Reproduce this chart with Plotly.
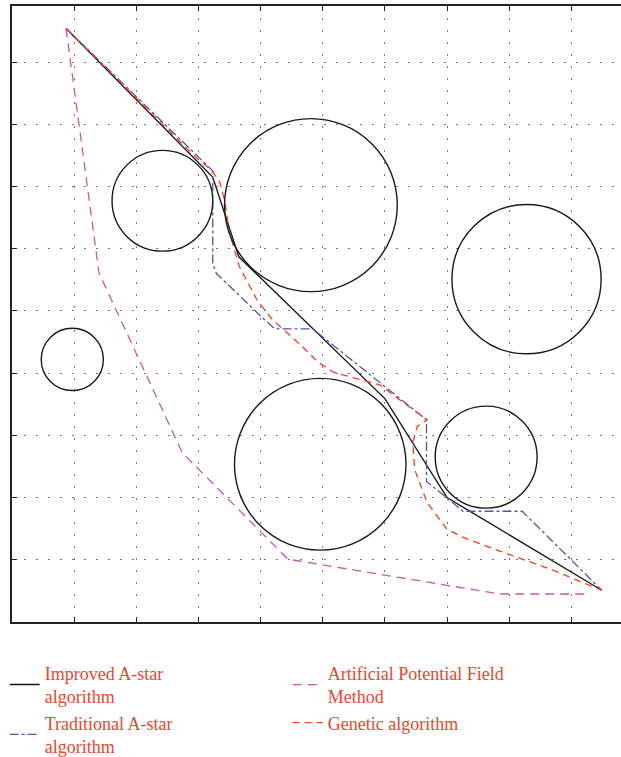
import plotly.graph_objects as go

# Path data (data units)
improved_x = [0.87, 3.23, 3.65, 6.00, 7.00, 9.49]
improved_y = [9.54, 7.15, 5.87, 3.59, 2.00, 0.51]

traditional_x = [0.87, 3.23, 3.23, 3.29, 4.03, 4.23, 4.84, 6.67, 6.67, 7.26, 8.21, 8.98, 9.49]
traditional_y = [9.54, 7.25, 5.76, 5.60, 4.89, 4.71, 4.71, 3.25, 2.26, 1.78, 1.78, 1.01, 0.51]

apf_x = [0.87, 1.40, 2.74, 4.44, 7.85, 9.27]
apf_y = [9.54, 5.61, 2.72, 1.01, 0.45, 0.45]

genetic_x = [0.87, 2.98, 3.21, 3.34, 3.42, 3.50, 3.66, 3.94, 4.19, 4.68, 4.92, 5.16, 5.44,
             5.92, 6.24, 6.68, 6.52, 6.45, 6.48, 6.68, 7.00, 7.26, 7.85, 8.66, 9.49]
genetic_y = [9.54, 7.45, 7.26, 7.08, 6.78, 6.25, 5.71, 5.18, 4.86, 4.42, 4.18, 4.02, 3.94,
             3.81, 3.57, 3.25, 3.14, 2.88, 2.45, 1.92, 1.49, 1.36, 1.14, 0.85, 0.51]

# Obstacles: centre x, centre y, radius
obs_cx = [0.97, 2.42, 4.81, 8.28, 4.96, 7.63]
obs_cy = [4.22, 6.77, 6.70, 5.51, 2.535, 2.65]
obs_r = [0.50, 0.81, 1.39, 1.20, 1.38, 0.82]

grid_vals = [1, 2, 3, 4, 5, 6, 7, 8, 9]

fig = go.Figure()
fig.add_trace(go.Scatter(x=improved_x, y=improved_y, mode="lines",
                         name="Improved A-star<br>algorithm",
                         line=dict(color="#1a1a1a", width=1.4)))
fig.add_trace(go.Scatter(x=apf_x, y=apf_y, mode="lines",
                         name="Artificial Potential Field<br>Method",
                         line=dict(color="#cc55aa", width=1.3, dash="9px,6px")))
fig.add_trace(go.Scatter(x=traditional_x, y=traditional_y, mode="lines",
                         name="Traditional A-star<br>algorithm",
                         line=dict(color="#5555aa", width=1.3, dash="dashdot")))
fig.add_trace(go.Scatter(x=genetic_x, y=genetic_y, mode="lines",
                         name="Genetic algorithm",
                         line=dict(color="#ff3d1f", width=1.3, dash="7px,5px")))

for cx, cy, r in zip(obs_cx, obs_cy, obs_r):
    fig.add_shape(type="circle", xref="x", yref="y",
                  x0=cx - r, x1=cx + r, y0=cy - r, y1=cy + r,
                  line=dict(color="#1a1a1a", width=1.4), layer="above")

axis_common = dict(showticklabels=False, ticks="inside", ticklen=5, tickcolor="#222",
                   tickvals=grid_vals, showgrid=True, gridcolor="#777", gridwidth=1,
                   griddash="2px,10px", zeroline=False, showline=True,
                   linecolor="#222", linewidth=1.5)

fig.update_xaxes(range=[0, 9.8], mirror="ticks", **axis_common)
fig.update_yaxes(range=[0, 9.9], mirror=False, **axis_common)

fig.update_layout(
    width=621, height=757,
    margin=dict(l=12, r=0, t=6, b=135, autoexpand=False),
    plot_bgcolor="white", paper_bgcolor="white",
    showlegend=True,
    legend=dict(orientation="h", x=-0.012, y=-0.053, xanchor="left", yanchor="top",
                entrywidth=238, entrywidthmode="pixels",
                font=dict(family="Liberation Serif", size=18, color="#e8472d"),
                tracegroupgap=0, itemwidth=30, bgcolor="rgba(0,0,0,0)"),
)

fig.write_html("out.html", config={"responsive": False, "displayModeBar": False},
               post_script="document.body.style.margin='0px';document.body.style.padding='0px';")
